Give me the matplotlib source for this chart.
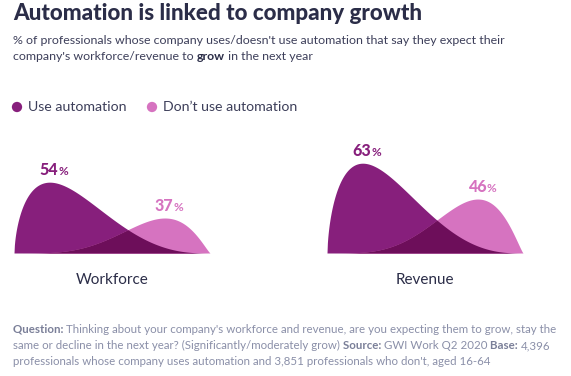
import numpy as np
import matplotlib
matplotlib.use('Agg')
import matplotlib.pyplot as plt

# Данные
groups = ['Workforce', 'Revenue']
use_auto = [54, 63]
no_auto = [37, 46]
series = ['Use automation', 'Don\u2019t use automation']

W, H = 571, 376
DARK = '#871f7c'
LIGHT = '#d673c0'
OVERLAP = '#6d0e5a'
NAVY = '#2b2d48'
GREY = '#8a8fa8'

plt.rcParams['font.family'] = ['Lato', 'DejaVu Sans']

fig = plt.figure(figsize=(W / 100, H / 100), dpi=100)
fig.patch.set_facecolor('white')

# оверлей в пиксельных координатах для текстов
ov = fig.add_axes([0, 0, 1, 1])
ov.set_xlim(0, W)
ov.set_ylim(H, 0)
ov.axis('off')


def rich(x, y, parts, size, color, bold_color=None, heavy='bold'):
    renderer = fig.canvas.get_renderer()
    for s, bold in parts:
        t = ov.text(x, y, s, fontsize=size, color=(bold_color or color) if bold else color,
                    fontweight=heavy if bold else 'normal', va='baseline', ha='left')
        x += t.get_window_extent(renderer).width


rich(13, 20, [('Automation is linked to company growth', True)], 16.1, NAVY, heavy='black')
rich(13, 44, [('% of professionals whose company uses/doesn\'t use automation that say they expect their', False)], 8.9, '#3d3f5a')
rich(13, 60, [('company\'s workforce/revenue to ', False), ('grow', True), (' in the next year', False)], 8.9, '#3d3f5a', NAVY)

# легенда
for cx, tx, lab, col in [(17, 28, series[0], DARK), (152, 163, series[1], LIGHT)]:
    ov.scatter([cx], [107], s=55, color=col, edgecolor='none')
    ov.text(tx, 111, lab, fontsize=10.2, color='#3d3f5a', va='baseline')

foot = 8.3
rich(13, 333, [('Question: ', True), ('Thinking about your company\'s workforce and revenue, are you expecting them to grow, stay the', False)], foot, GREY, '#7a7f98')
rich(13, 349, [('same or decline in the next year? (Significantly/moderately grow) ', False), ('Source: ', True),
               ('GWI Work Q2 2020 ', False), ('Base: ', True), ('4,396', False)], foot, GREY, '#7a7f98')
rich(13, 365, [('professionals whose company uses automation and 3,851 professionals who don\'t, aged 16-64', False)], foot, GREY, '#7a7f98')

# основной график
base = 20.4
ax = fig.add_axes([14 / W, 123 / H, 509 / W, 113 / H])
ax.set_xlim(0, 509)
ax.set_ylim(base, 74)
ax.axis('off')

t = np.linspace(0, 1, 500)


def kern(t, a, b):
    k = t ** a * (1 - t) ** b
    return k / k.max()


kd = kern(t, 0.6, 2.7)
kl = kern(t, 4.0, 1.2)
width, step = 196, 313

for i, g in enumerate(groups):
    x = i * step + t * width
    yd = base + (use_auto[i] - base) * kd
    yl = base + (no_auto[i] - base) * kl
    ax.fill_between(x, base, yd, color=DARK, lw=0)
    ax.fill_between(x, base, yl, color=LIGHT, lw=0)
    ax.fill_between(x, base, np.minimum(yd, yl), color=OVERLAP, lw=0)
    for y, k, col in [(use_auto[i], kd, DARK), (no_auto[i], kl, LIGHT)]:
        px = x[np.argmax(k)]
        ax.annotate(f'{y}', (px, y), xytext=(6, 5), textcoords='offset points',
                    ha='right', va='baseline', fontsize=11.5, fontweight='black', color=col)
        ax.annotate('%', (px, y), xytext=(6, 5), textcoords='offset points',
                    ha='left', va='baseline', fontsize=8.5, fontweight='bold', color=col)
    ax.annotate(g, (i * step + width / 2, base), xytext=(0, -14.5), textcoords='offset points',
                ha='center', va='top', fontsize=11, color=NAVY)

fig.savefig('out.png', dpi=100, facecolor='white')
